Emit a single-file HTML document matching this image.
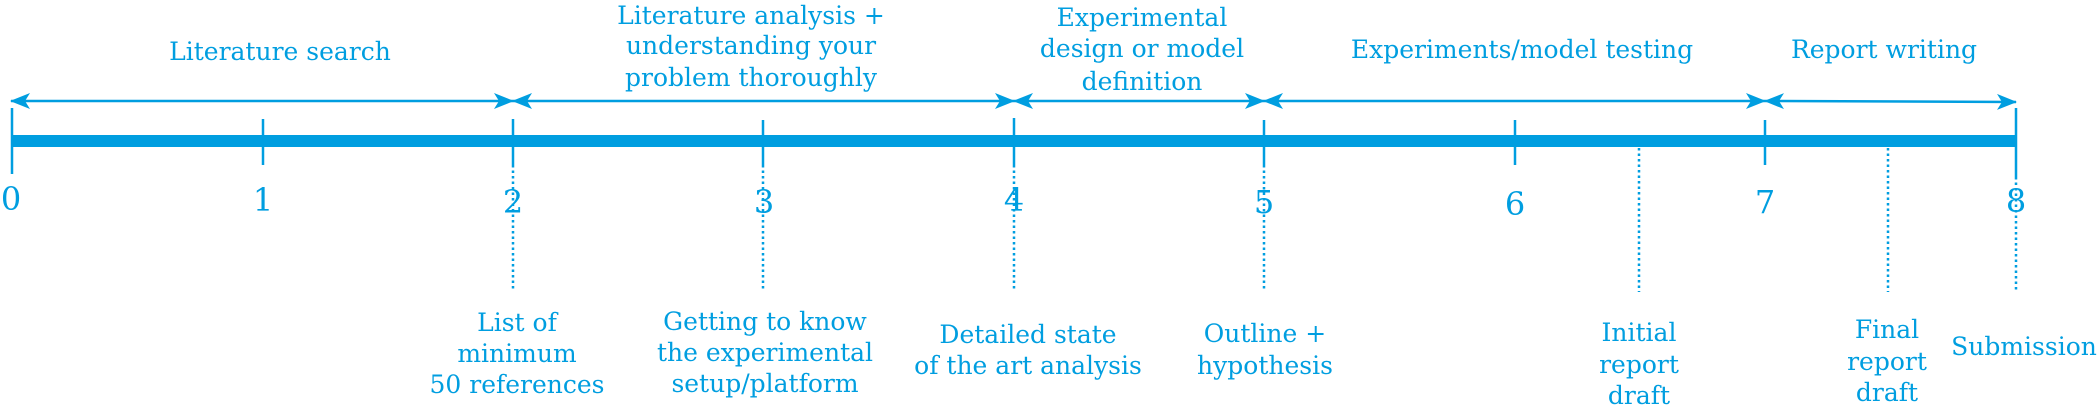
<!DOCTYPE html>
<html><head><meta charset="utf-8"><style>
html,body{margin:0;padding:0;background:#fff;}
svg{display:block;}
text{font-family:"DejaVu Serif","Liberation Serif",serif;fill:#009ee0;}
</style></head><body>
<svg width="2098" height="411" viewBox="0 0 2098 411" xmlns="http://www.w3.org/2000/svg">
<defs>
<marker id="ah" viewBox="0 0 20 16" refX="19" refY="8" markerWidth="20" markerHeight="16" markerUnits="userSpaceOnUse" orient="auto-start-reverse">
<path d="M0,0 L20,8 L0,16 L5,8 Z" fill="#009ee0"/>
</marker>
</defs>
<g stroke="#009ee0" fill="none">
<rect x="12" y="135" width="2004" height="12" fill="#009ee0" stroke="none"/>
<g stroke-width="2.5">
<line x1="12" y1="108" x2="12" y2="174"/>
<line x1="263" y1="119" x2="263" y2="165"/>
<line x1="513" y1="119" x2="513" y2="165"/>
<line x1="763" y1="120" x2="763" y2="165"/>
<line x1="1014" y1="118" x2="1014" y2="165"/>
<line x1="1264" y1="120" x2="1264" y2="165"/>
<line x1="1515" y1="120" x2="1515" y2="165"/>
<line x1="1765" y1="120" x2="1765" y2="165"/>
<line x1="2016" y1="108" x2="2016" y2="177"/>
</g>
<g stroke-width="2.5" stroke-dasharray="2.5,3">
<line x1="513" y1="165" x2="513" y2="291"/>
<line x1="763" y1="165" x2="763" y2="291"/>
<line x1="1014" y1="165" x2="1014" y2="291"/>
<line x1="1264" y1="165" x2="1264" y2="291"/>
<line x1="1639" y1="148" x2="1639" y2="292"/>
<line x1="1888" y1="148" x2="1888" y2="292"/>
<line x1="2016" y1="177" x2="2016" y2="292"/>
</g>
<g stroke-width="2.5" marker-start="url(#ah)" marker-end="url(#ah)">
<line x1="11" y1="101" x2="513" y2="101"/>
<line x1="513" y1="101" x2="1014" y2="101"/>
<line x1="1014" y1="101" x2="1264" y2="101"/>
<line x1="1264" y1="101" x2="1765" y2="101"/>
<line x1="1765" y1="101" x2="2016" y2="102"/>
</g>
</g>
<g font-size="32" text-anchor="middle">
<text x="11" y="210">0</text>
<text x="263" y="211">1</text>
<text x="513" y="213">2</text>
<text x="764" y="213">3</text>
<text x="1014" y="211">4</text>
<text x="1264" y="213">5</text>
<text x="1515" y="215">6</text>
<text x="1765" y="213">7</text>
<text x="2016" y="212">8</text>
</g>
<g font-size="25" text-anchor="middle">
<text x="280" y="60">Literature search</text>
<text x="751" y="24">Literature analysis +</text>
<text x="751" y="54">understanding your</text>
<text x="751" y="86">problem thoroughly</text>
<text x="1142" y="26">Experimental</text>
<text x="1142" y="57">design or model</text>
<text x="1142" y="90">definition</text>
<text x="1522" y="58">Experiments/model testing</text>
<text x="1884" y="58">Report writing</text>

<text x="517" y="331">List of</text>
<text x="517" y="362">minimum</text>
<text x="517" y="393">50 references</text>
<text x="765" y="330">Getting to know</text>
<text x="765" y="361">the experimental</text>
<text x="765" y="392">setup/platform</text>
<text x="1028" y="343">Detailed state</text>
<text x="1028" y="374">of the art analysis</text>
<text x="1265" y="342">Outline +</text>
<text x="1265" y="374">hypothesis</text>
<text x="1639" y="341">Initial</text>
<text x="1639" y="373">report</text>
<text x="1639" y="404">draft</text>
<text x="1887" y="338">Final</text>
<text x="1887" y="370">report</text>
<text x="1887" y="401">draft</text>
<text x="2024" y="355">Submission</text>
</g>
</svg>
</body></html>
